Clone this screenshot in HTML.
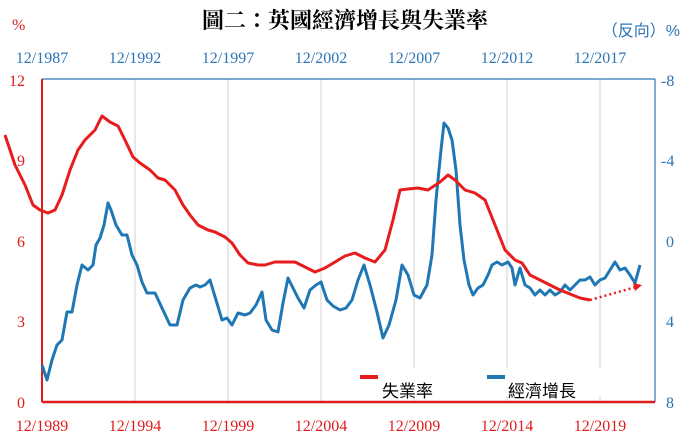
<!DOCTYPE html><html><head><meta charset="utf-8"><style>body{margin:0;background:#fff}svg{display:block}</style></head><body>
<svg width="691" height="442" xmlns="http://www.w3.org/2000/svg" font-family="'Liberation Serif','Noto Serif CJK SC',serif">
<g stroke="#d9d9d9" stroke-width="1.2">
<line x1="135" y1="79" x2="135" y2="402"/><line x1="228" y1="79" x2="228" y2="402"/><line x1="321" y1="79" x2="321" y2="402"/><line x1="414" y1="79" x2="414" y2="402"/><line x1="507" y1="79" x2="507" y2="402"/><line x1="600" y1="79" x2="600" y2="402"/>
</g>
<rect x="355" y="368" width="290" height="28" fill="#fff"/>
<line x1="42" y1="79" x2="655" y2="79" stroke="#2e75b6" stroke-width="1.2"/>
<line x1="655" y1="79" x2="655" y2="402" stroke="#2e75b6" stroke-width="1.2"/>
<line x1="42" y1="79" x2="42" y2="402" stroke="#e01b1b" stroke-width="2"/>
<line x1="42" y1="402" x2="655" y2="402" stroke="#e01b1b" stroke-width="2.5"/>
<polyline fill="none" stroke="#1f77b4" stroke-width="3" stroke-linejoin="round" points="42,365 47,380 52,360 57,345 62,340 67,312 72,312 77,285 82,265 88,270 93,265 96,245 100,238 104,225 108,203 111,210 116,225 122,235 127,235 132,255 137,265 142,282 147,293 155,293 162,308 170,325 177,325 183,300 190,288 196,285 200,287 205,285 210,280 216,300 222,320 227,318 232,325 238,313 245,315 250,313 256,305 262,292 266,320 272,330 278,332 283,303 288,278 294,290 298,298 304,308 310,290 316,285 321,282 327,300 333,306 340,310 346,308 352,300 358,280 364,265 370,285 377,312 383,338 389,325 396,300 402,265 408,275 414,295 420,298 427,285 432,255 436,200 441,150 444,123 448,128 452,140 456,170 460,225 464,260 469,285 473,295 478,288 483,285 488,275 492,265 497,262 502,265 508,262 512,268 515,285 520,268 525,285 530,288 535,295 540,290 545,295 550,290 555,295 560,292 565,285 570,290 575,285 580,280 585,280 590,277 595,285 600,280 605,278 610,270 615,262 620,270 625,268 630,275 635,283 640,265"/>
<polyline fill="none" stroke="#e81c1c" stroke-width="3" stroke-linejoin="round" points="5,135 15,165 25,185 33,205 40,210 48,213 55,210 62,195 70,170 78,150 85,140 95,130 102,116 110,122 118,126 125,140 133,157 140,163 150,170 158,178 165,180 175,190 183,205 190,215 198,225 208,230 215,232 225,237 232,243 240,255 248,263 258,265 265,265 275,262 285,262 295,262 305,267 315,272 325,268 335,262 345,256 355,253 365,258 375,262 385,250 393,220 400,190 408,189 418,188 428,190 440,182 448,175 455,180 465,190 475,193 485,200 495,225 505,250 515,260 522,263 530,275 540,280 550,285 560,290 570,294 580,298 590,300"/>
<line x1="590" y1="300" x2="636" y2="287" stroke="#e81c1c" stroke-width="2.5" stroke-dasharray="2,3"/>
<polygon points="642,285 633,283 635,291" fill="#e81c1c"/>
<line x1="360" y1="377" x2="378" y2="377" stroke="#e81c1c" stroke-width="4"/>
<line x1="487" y1="377" x2="505" y2="377" stroke="#1f77b4" stroke-width="4"/>
<g font-family="'Liberation Sans','Noto Sans CJK TC',sans-serif" font-size="17" fill="#000">
<text x="382" y="397">失業率</text><text x="508" y="397">經濟增長</text></g>
<text x="345" y="28" text-anchor="middle" font-size="22" font-weight="bold" font-family="'Liberation Serif','Noto Serif CJK TC',serif">圖二：英國經濟增長與失業率</text>
<text x="12" y="30" fill="#e01b1b" font-size="16">%</text>
<text x="680" y="36" fill="#2e75b6" font-size="16" text-anchor="end" font-family="'Liberation Sans','Noto Sans CJK TC',sans-serif">（反向）%</text>
<g fill="#e01b1b" font-size="16" text-anchor="end">
<text x="25" y="86">12</text><text x="25" y="166">9</text><text x="25" y="247">6</text><text x="25" y="327">3</text><text x="25" y="408">0</text></g>
<g fill="#2e75b6" font-size="16" text-anchor="start">
<text x="661" y="86">-8</text><text x="661" y="166">-4</text><text x="666" y="247">0</text><text x="666" y="327">4</text><text x="666" y="408">8</text></g>
<g fill="#2e75b6" font-size="16" text-anchor="middle">
<text x="42" y="63">12/1987</text><text x="135" y="63">12/1992</text><text x="228" y="63">12/1997</text><text x="321" y="63">12/2002</text><text x="414" y="63">12/2007</text><text x="507" y="63">12/2012</text><text x="600" y="63">12/2017</text></g>
<g fill="#e01b1b" font-size="16" text-anchor="middle">
<text x="42" y="431">12/1989</text><text x="135" y="431">12/1994</text><text x="228" y="431">12/1999</text><text x="321" y="431">12/2004</text><text x="414" y="431">12/2009</text><text x="507" y="431">12/2014</text><text x="600" y="431">12/2019</text></g>
</svg></body></html>
